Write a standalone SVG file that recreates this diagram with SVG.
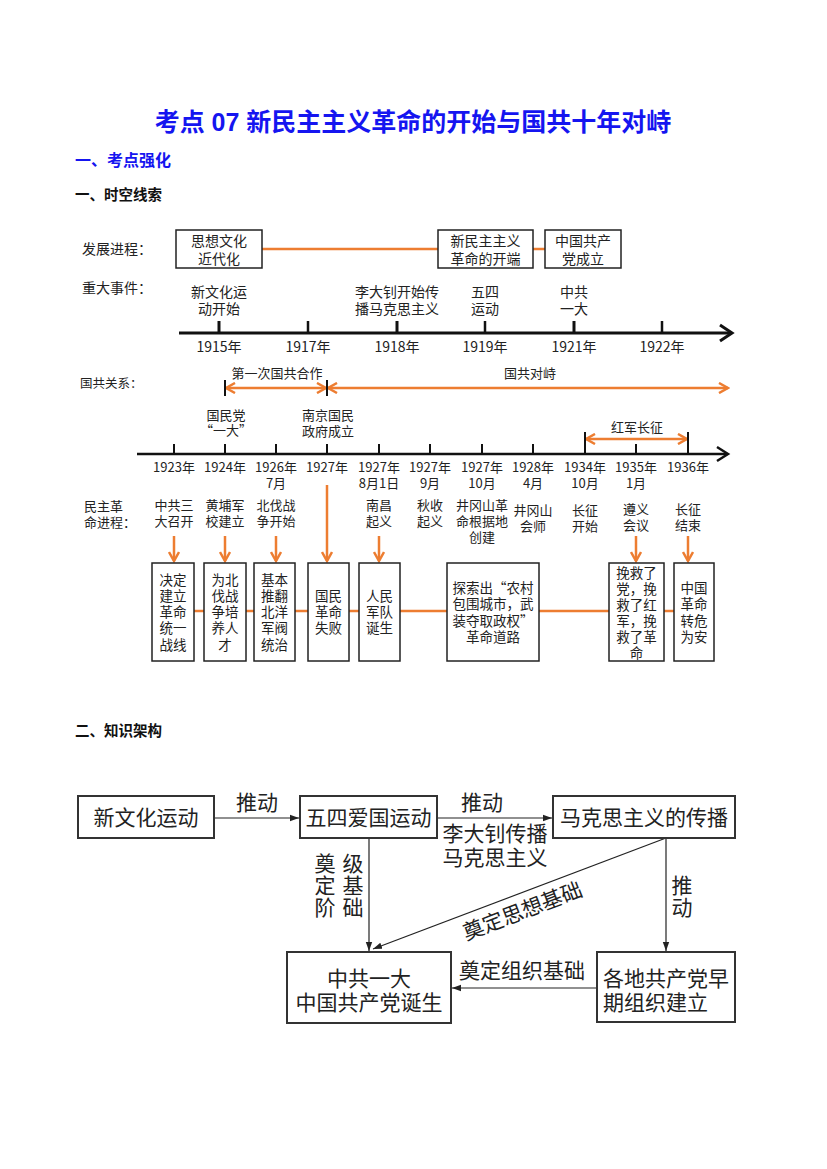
<svg xmlns="http://www.w3.org/2000/svg" width="827" height="1169" viewBox="0 0 827 1169">
<defs>
<style>
text{font-family:"Noto Sans CJK SC",sans-serif;fill:#222}
.t14{font-size:14px}
.t13{font-size:13px}
.t135{font-size:13.5px}
.c{text-anchor:middle}
.big{font-size:21px}
.vt{writing-mode:vertical-rl;letter-spacing:1px}
.box{fill:#fff;stroke:#222;stroke-width:1.5}
.box2{fill:#fff;stroke:#333;stroke-width:2}
.or{stroke:#ED7D31;stroke-width:2.5;fill:none}
.ax{stroke:#111;stroke-width:3;fill:none}
.tk{stroke:#111;stroke-width:2.5}
.thin{stroke:#222;stroke-width:1.2;fill:none}
</style>
<marker id="oa" viewBox="0 0 12 12" refX="10" refY="6" markerWidth="12" markerHeight="12" markerUnits="userSpaceOnUse" orient="auto-start-reverse">
<path d="M1,1 L10,6 L1,11" fill="none" stroke="#ED7D31" stroke-width="2.5"/>
</marker>
<marker id="ba" viewBox="0 0 10 8" refX="9" refY="4" markerWidth="10" markerHeight="8" markerUnits="userSpaceOnUse" orient="auto">
<path d="M0,0.8 L9,4 L0,7.2 Z" fill="#222"/>
</marker>
</defs>
<rect width="827" height="1169" fill="#fff"/>

<g id="headers">
<text x="413" y="131" style="font-family:'Liberation Sans','Noto Sans CJK SC',sans-serif;font-size:25px;font-weight:bold;fill:#1515F0" text-anchor="middle">考点 07 新民主主义革命的开始与国共十年对峙</text>
<text x="75" y="166" style="font-size:16px;font-weight:bold;fill:#1515F0">一、考点强化</text>
<text x="75" y="200" style="font-size:14.5px;font-weight:bold;fill:#111">一、时空线索</text>
<text x="75" y="736" style="font-size:14.5px;font-weight:bold;fill:#111">二、知识架构</text>
</g>

<!-- timeline 1 -->
<g id="timeline1-connectors">
<line class="or" x1="262" y1="249" x2="438" y2="249"/>
<line class="or" x1="533" y1="249" x2="545" y2="249"/>
<line class="ax" x1="179" y1="333" x2="731" y2="333"/>
<path d="M720,325 L732,333 L720,341" fill="none" stroke="#111" stroke-width="3"/>
<g class="tk">
<line x1="219" y1="321" x2="219" y2="333" stroke-width="3"/>
<line x1="308" y1="321" x2="308" y2="333"/>
<line x1="397" y1="321" x2="397" y2="333" stroke-width="3"/>
<line x1="485" y1="321" x2="485" y2="333"/>
<line x1="574" y1="321" x2="574" y2="333" stroke-width="3"/>
<line x1="662" y1="321" x2="662" y2="333"/>
</g>
</g>
<g id="tl1-labels" class="t14">
<text x="82" y="254">发展进程：</text>
<text x="82" y="293">重大事件：</text>
<text class="c"><tspan x="219" y="297">新文化运</tspan><tspan x="219" y="314">动开始</tspan></text>
<text class="c"><tspan x="397" y="297">李大钊开始传</tspan><tspan x="397" y="314">播马克思主义</tspan></text>
<text class="c"><tspan x="485" y="297">五四</tspan><tspan x="485" y="314">运动</tspan></text>
<text class="c"><tspan x="574" y="297">中共</tspan><tspan x="574" y="314">一大</tspan></text>
<text class="c" x="219" y="352">1915年</text>
<text class="c" x="308" y="352">1917年</text>
<text class="c" x="397" y="352">1918年</text>
<text class="c" x="485" y="352">1919年</text>
<text class="c" x="574" y="352">1921年</text>
<text class="c" x="662" y="352">1922年</text>
</g>
<g id="n-sixiang"><rect class="box" x="176" y="230" width="86" height="38"/><text class="t14 c"><tspan x="219" y="246">思想文化</tspan><tspan x="219" y="264">近代化</tspan></text></g>
<g id="n-xinminzhu"><rect class="box" x="438" y="230" width="95" height="38"/><text class="t14 c"><tspan x="485.5" y="246">新民主主义</tspan><tspan x="485.5" y="264">革命的开端</tspan></text></g>
<g id="n-chengli"><rect class="box" x="545" y="230" width="76" height="38"/><text class="t14 c"><tspan x="583" y="246">中国共产</tspan><tspan x="583" y="264">党成立</tspan></text></g>

<!-- timeline 2 -->
<g id="timeline2-connectors">
<line class="or" x1="226" y1="388" x2="326" y2="388" marker-start="url(#oa)" marker-end="url(#oa)"/>
<line class="or" x1="328" y1="388" x2="728" y2="388" marker-start="url(#oa)" marker-end="url(#oa)"/>
<line x1="225" y1="380" x2="225" y2="396" stroke="#111" stroke-width="2"/>
<line x1="327" y1="380" x2="327" y2="396" stroke="#111" stroke-width="2"/>
<line class="or" x1="586" y1="439" x2="687" y2="439" marker-start="url(#oa)" marker-end="url(#oa)"/>
<line x1="585" y1="432" x2="585" y2="454" stroke="#111" stroke-width="2"/>
<line x1="688" y1="432" x2="688" y2="454" stroke="#111" stroke-width="2"/>
<line x1="137" y1="454" x2="727" y2="454" stroke="#111" stroke-width="2.5"/>
<path d="M717,447 L728,454 L717,461" fill="none" stroke="#111" stroke-width="2.5"/>
<g stroke="#111" stroke-width="2">
<line x1="174" y1="444" x2="174" y2="454"/>
<line x1="225" y1="444" x2="225" y2="454"/>
<line x1="276" y1="444" x2="276" y2="454"/>
<line x1="327" y1="444" x2="327" y2="454"/>
<line x1="379" y1="444" x2="379" y2="454"/>
<line x1="430" y1="444" x2="430" y2="454"/>
<line x1="482" y1="444" x2="482" y2="454"/>
<line x1="533" y1="444" x2="533" y2="454"/>
<line x1="636" y1="444" x2="636" y2="454"/>
</g>
<g class="or">
<line x1="174" y1="536" x2="174" y2="561" marker-end="url(#oa)"/>
<line x1="225" y1="536" x2="225" y2="561" marker-end="url(#oa)"/>
<line x1="276" y1="536" x2="276" y2="561" marker-end="url(#oa)"/>
<line x1="327" y1="485" x2="327" y2="561" marker-end="url(#oa)"/>
<line x1="379" y1="536" x2="379" y2="561" marker-end="url(#oa)"/>
<line x1="636" y1="536" x2="636" y2="561" marker-end="url(#oa)"/>
<line x1="688" y1="536" x2="688" y2="561" marker-end="url(#oa)"/>
<line x1="194" y1="611" x2="204" y2="611"/>
<line x1="246" y1="611" x2="254" y2="611"/>
<line x1="295" y1="611" x2="308" y2="611"/>
<line x1="349" y1="611" x2="359" y2="611"/>
<line x1="400" y1="611" x2="447" y2="611"/>
<line x1="539" y1="611" x2="609" y2="611"/>
<line x1="664" y1="611" x2="674" y2="611"/>
</g>
</g>
<g id="tl2-labels" class="t13">
<text x="80" y="388" style="font-size:12.5px">国共关系：</text>
<text class="c" x="277" y="378">第一次国共合作</text>
<text class="c" x="530" y="378">国共对峙</text>
<text class="c"><tspan x="226" y="420">国民党</tspan><tspan x="226" y="435">“一大”</tspan></text>
<text class="c"><tspan x="328" y="420">南京国民</tspan><tspan x="328" y="436">政府成立</tspan></text>
<text class="c" x="637" y="432">红军长征</text>
<text class="c" x="174" y="472">1923年</text>
<text class="c" x="225" y="472">1924年</text>
<text class="c"><tspan x="276" y="472">1926年</tspan><tspan x="276" y="488">7月</tspan></text>
<text class="c" x="327" y="472">1927年</text>
<text class="c"><tspan x="379" y="472">1927年</tspan><tspan x="379" y="488">8月1日</tspan></text>
<text class="c"><tspan x="430" y="472">1927年</tspan><tspan x="430" y="488">9月</tspan></text>
<text class="c"><tspan x="482" y="472">1927年</tspan><tspan x="482" y="488">10月</tspan></text>
<text class="c"><tspan x="533" y="472">1928年</tspan><tspan x="533" y="488">4月</tspan></text>
<text class="c"><tspan x="585" y="472">1934年</tspan><tspan x="585" y="488">10月</tspan></text>
<text class="c"><tspan x="636" y="472">1935年</tspan><tspan x="636" y="488">1月</tspan></text>
<text class="c" x="688" y="472">1936年</text>
<text><tspan x="84" y="511">民主革</tspan><tspan x="84" y="527">命进程：</tspan></text>
<text class="c"><tspan x="174" y="510">中共三</tspan><tspan x="174" y="526">大召开</tspan></text>
<text class="c"><tspan x="225" y="510">黄埔军</tspan><tspan x="225" y="526">校建立</tspan></text>
<text class="c"><tspan x="276" y="510">北伐战</tspan><tspan x="276" y="526">争开始</tspan></text>
<text class="c"><tspan x="379" y="510">南昌</tspan><tspan x="379" y="526">起义</tspan></text>
<text class="c"><tspan x="430" y="510">秋收</tspan><tspan x="430" y="526">起义</tspan></text>
<text class="c"><tspan x="482" y="510">井冈山革</tspan><tspan x="482" y="526">命根据地</tspan><tspan x="482" y="542">创建</tspan></text>
<text class="c"><tspan x="533" y="515">井冈山</tspan><tspan x="533" y="531">会师</tspan></text>
<text class="c"><tspan x="585" y="515">长征</tspan><tspan x="585" y="531">开始</tspan></text>
<text class="c"><tspan x="636" y="514">遵义</tspan><tspan x="636" y="530">会议</tspan></text>
<text class="c"><tspan x="688" y="514">长征</tspan><tspan x="688" y="530">结束</tspan></text>
</g>

<g id="b-tongyi"><rect class="box" x="152" y="563" width="42" height="98"/>
<text class="t135 c"><tspan x="173" y="585">决定</tspan><tspan x="173" y="601">建立</tspan><tspan x="173" y="617">革命</tspan><tspan x="173" y="633">统一</tspan><tspan x="173" y="650">战线</tspan></text></g>
<g id="b-rencai"><rect class="box" x="204" y="563" width="42" height="98"/>
<text class="t135 c"><tspan x="225" y="585">为北</tspan><tspan x="225" y="601">伐战</tspan><tspan x="225" y="617">争培</tspan><tspan x="225" y="633">养人</tspan><tspan x="225" y="650">才</tspan></text></g>
<g id="b-beiyang"><rect class="box" x="254" y="563" width="41" height="98"/>
<text class="t135 c"><tspan x="274.5" y="585">基本</tspan><tspan x="274.5" y="601">推翻</tspan><tspan x="274.5" y="617">北洋</tspan><tspan x="274.5" y="633">军阀</tspan><tspan x="274.5" y="650">统治</tspan></text></g>
<g id="b-shibai"><rect class="box" x="308" y="563" width="41" height="98"/>
<text class="t135 c"><tspan x="328.5" y="601">国民</tspan><tspan x="328.5" y="617">革命</tspan><tspan x="328.5" y="633">失败</tspan></text></g>
<g id="b-jundui"><rect class="box" x="359" y="563" width="41" height="98"/>
<text class="t135 c"><tspan x="379.5" y="601">人民</tspan><tspan x="379.5" y="617">军队</tspan><tspan x="379.5" y="633">诞生</tspan></text></g>
<g id="b-daolu"><rect class="box" x="447" y="563" width="92" height="98"/>
<text class="t135 c"><tspan x="493" y="593">探索出“农村</tspan><tspan x="493" y="609">包围城市，武</tspan><tspan x="493" y="626">装夺取政权”</tspan><tspan x="493" y="642">革命道路</tspan></text></g>
<g id="b-wanjiu"><rect class="box" x="609" y="563" width="55" height="98"/>
<text class="t135 c"><tspan x="636.5" y="578">挽救了</tspan><tspan x="636.5" y="594">党，挽</tspan><tspan x="636.5" y="610">救了红</tspan><tspan x="636.5" y="626">军，挽</tspan><tspan x="636.5" y="642">救了革</tspan><tspan x="636.5" y="658">命</tspan></text></g>
<g id="b-zhuanwei"><rect class="box" x="674" y="563" width="40" height="98"/>
<text class="t135 c"><tspan x="694" y="593">中国</tspan><tspan x="694" y="609">革命</tspan><tspan x="694" y="626">转危</tspan><tspan x="694" y="642">为安</tspan></text></g>

<!-- knowledge structure -->
<g id="k-connectors">
<line class="thin" x1="214" y1="818" x2="299" y2="818" marker-end="url(#ba)"/>
<line class="thin" x1="437" y1="818" x2="552" y2="818" marker-end="url(#ba)"/>
<line class="thin" x1="369" y1="838" x2="369" y2="951" marker-end="url(#ba)"/>
<line class="thin" x1="666" y1="838" x2="373" y2="949" marker-end="url(#ba)"/>
<line class="thin" x1="666" y1="838" x2="666" y2="951" marker-end="url(#ba)"/>
<line class="thin" x1="597" y1="988" x2="452" y2="988" marker-end="url(#ba)"/>
<g class="big">
<text class="c" x="257" y="810">推动</text>
<text class="c" x="482" y="810">推动</text>
<text class="c"><tspan x="495" y="841">李大钊传播</tspan><tspan x="495" y="865">马克思主义</tspan></text>
<text class="vt" x="325" y="853">奠定阶</text>
<text class="vt" x="353" y="853">级基础</text>
<text class="vt" x="682" y="875">推动</text>
<text class="c" transform="translate(525,918) rotate(-21)">奠定思想基础</text>
<text class="c" x="522" y="978">奠定组织基础</text>
</g>
</g>
<g id="k-xinwenhua"><rect class="box2" x="78" y="796" width="136" height="42"/><text class="big c" x="146" y="825">新文化运动</text></g>
<g id="k-wusi"><rect class="box2" x="300" y="796" width="137" height="42"/><text class="big c" x="368.5" y="825">五四爱国运动</text></g>
<g id="k-makesi"><rect class="box2" x="553" y="796" width="182" height="42"/><text class="big c" x="644" y="825">马克思主义的传播</text></g>
<g id="k-yida"><rect class="box2" x="287" y="952" width="164" height="71"/><text class="big c"><tspan x="369" y="986">中共一大</tspan><tspan x="369" y="1010">中国共产党诞生</tspan></text></g>
<g id="k-gedi"><rect class="box2" x="597" y="952" width="138" height="70"/><text class="big"><tspan x="603" y="986">各地共产党早</tspan><tspan x="603" y="1010">期组织建立</tspan></text></g>
</svg>
